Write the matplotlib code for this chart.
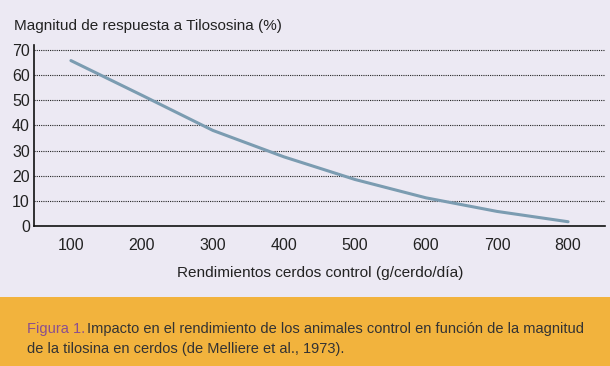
import matplotlib
matplotlib.use("Agg")
import matplotlib.pyplot as plt
from matplotlib.patches import Rectangle

# data
rendimiento = [100, 200, 300, 400, 500, 600, 700, 800]
respuesta = [65.8, 52, 38, 27.5, 18.5, 11.2, 5.8, 1.7]
xticks = [100, 200, 300, 400, 500, 600, 700, 800]
yticks = [0, 10, 20, 30, 40, 50, 60, 70]

plt.rcParams['font.family'] = ['Liberation Sans', 'DejaVu Sans']

bg = '#ECE9F3'
fig = plt.figure(figsize=(6.1, 3.66), dpi=100, facecolor=bg)

# orange caption band
fig.patches.append(Rectangle((0, 0), 1, 69 / 366, transform=fig.transFigure,
                             facecolor='#F2B33D', edgecolor='none', zorder=-1))

ax = fig.add_axes([34 / 610, 1 - 226 / 366, (605 - 34) / 610, (226 - 45) / 366])
ax.set_facecolor(bg)
ax.plot(rendimiento, respuesta, color='#7B9CB1', lw=2.2, solid_capstyle='round')

ax.set_xlim(48, 852)
ax.set_ylim(0, 72)
ax.set_xticks(xticks)
ax.set_yticks(yticks)
ax.tick_params(axis='both', length=0, labelsize=11.5, colors='#222222')
ax.tick_params(axis='x', pad=9)
ax.tick_params(axis='y', pad=3)
for s in ['top', 'right']:
    ax.spines[s].set_visible(False)
for s in ['left', 'bottom']:
    ax.spines[s].set_linewidth(1.2)
    ax.spines[s].set_color('#111111')
ax.yaxis.grid(True, linestyle=(0, (1, 1)), color='#222222', lw=0.8)
ax.set_axisbelow(True)

fig.text(14 / 610, 1 - 26 / 366, 'Magnitud de respuesta a Tilososina (%)',
         fontsize=11, color='#222222', va='center', ha='left')
fig.text(320 / 610, 1 - 273 / 366, 'Rendimientos cerdos control (g/cerdo/día)',
         fontsize=11.1, color='#222222', va='center', ha='center')

# caption
t1 = fig.text(27 / 610, 1 - 329 / 366, 'Figura 1.', fontsize=10.5, color='#8A4F8F',
              va='center', ha='left')
fig.canvas.draw()
ax.annotate('Impacto en el rendimiento de los animales control en función de la magnitud',
            xy=(1, 0.5), xycoords=t1, xytext=(1, 0), textcoords='offset points',
            va='center', ha='left', fontsize=10.5, color='#333333', annotation_clip=False)
fig.text(27 / 610, 1 - 349 / 366, 'de la tilosina en cerdos (de Melliere et al., 1973).',
         fontsize=10.5, color='#333333', va='center', ha='left')

fig.savefig('out.png', dpi=100, facecolor=bg)
